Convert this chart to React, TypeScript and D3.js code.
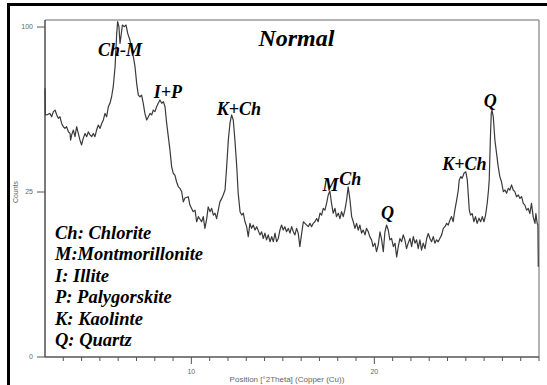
import React from 'react';
import * as d3 from 'd3';

// 2θ positions (degrees) and intensity (counts)
const twoTheta = [
  2.00, 2.02, 2.09, 2.27, 2.36, 2.46, 2.55, 2.64, 2.73, 2.82, 2.91, 3.00, 3.09, 3.18, 3.28, 3.37, 3.40, 3.46, 3.55, 3.64,
  3.73, 3.82, 3.91, 4.00, 4.09, 4.19, 4.28, 4.37, 4.46, 4.55, 4.64, 4.73, 4.82, 4.91, 5.01, 5.10, 5.19, 5.28, 5.37, 5.46,
  5.55, 5.64, 5.73, 5.83, 5.92, 5.97, 6.04, 6.10, 6.15, 6.23, 6.34, 6.43, 6.52, 6.64, 6.74, 6.83, 6.92, 7.01, 7.10, 7.19,
  7.28, 7.37, 7.46, 7.56, 7.65, 7.74, 7.83, 7.92, 8.01, 8.10, 8.19, 8.28, 8.38, 8.47, 8.56, 8.65, 8.74, 8.83, 8.92, 9.01,
  9.10, 9.19, 9.29, 9.38, 9.47, 9.56, 9.65, 9.83, 9.92, 10.10, 10.20, 10.29, 10.38, 10.56, 10.65, 10.74, 10.84, 10.92, 11.02, 11.11,
  11.20, 11.29, 11.38, 11.47, 11.56, 11.66, 11.74, 11.84, 11.93, 12.02, 12.11, 12.20, 12.29, 12.38, 12.48, 12.56, 12.66, 12.75, 12.84, 12.93,
  13.02, 13.11, 13.20, 13.29, 13.38, 13.48, 13.57, 13.75, 13.84, 13.93, 14.02, 14.11, 14.20, 14.30, 14.39, 14.48, 14.57, 14.66, 14.75, 14.84,
  14.93, 15.02, 15.11, 15.20, 15.30, 15.39, 15.48, 15.57, 15.66, 15.75, 15.84, 15.93, 16.03, 16.12, 16.21, 16.39, 16.48, 16.57, 16.66, 16.75,
  16.85, 16.93, 17.03, 17.12, 17.21, 17.30, 17.39, 17.48, 17.57, 17.66, 17.75, 17.85, 17.93, 18.03, 18.12, 18.21, 18.30, 18.39, 18.48, 18.57,
  18.67, 18.76, 18.85, 18.94, 19.03, 19.12, 19.21, 19.30, 19.39, 19.49, 19.57, 19.67, 19.75, 19.85, 19.93, 20.03, 20.12, 20.21, 20.31, 20.40,
  20.49, 20.58, 20.67, 20.76, 20.85, 20.94, 21.04, 21.13, 21.22, 21.31, 21.40, 21.49, 21.58, 21.67, 21.76, 21.85, 21.95, 22.04, 22.13, 22.22,
  22.31, 22.40, 22.49, 22.58, 22.67, 22.77, 22.86, 22.95, 23.04, 23.13, 23.22, 23.31, 23.40, 23.49, 23.58, 23.68, 23.77, 23.86, 23.95, 24.04,
  24.13, 24.22, 24.31, 24.40, 24.50, 24.59, 24.64, 24.73, 24.80, 24.90, 25.00, 25.08, 25.13, 25.19, 25.26, 25.35, 25.44, 25.53, 25.62, 25.72,
  25.81, 25.90, 25.99, 26.08, 26.17, 26.24, 26.28, 26.34, 26.39, 26.43, 26.50, 26.59, 26.68, 26.77, 26.86, 26.95, 27.05, 27.14, 27.23, 27.32,
  27.41, 27.50, 27.59, 27.68, 27.77, 27.87, 27.96, 28.05, 28.14, 28.23, 28.32, 28.41, 28.50, 28.59, 28.68, 28.78, 28.83, 28.90, 28.94, 28.96,
];
const counts = [
  66.3, 54.0, 53.8, 54.5, 53.0, 55.3, 56.0, 53.8, 52.3, 53.0, 50.1, 48.7, 48.0, 48.7, 46.6, 45.9, 43.2, 45.3, 47.3, 44.6,
  48.7, 45.9, 43.2, 41.3, 43.9, 45.9, 44.6, 46.6, 45.3, 44.6, 45.9, 44.6, 47.3, 49.4, 48.0, 50.1, 51.6, 54.5, 53.0, 57.5,
  59.1, 62.2, 67.1, 77.4, 96.2, 103.3, 100.2, 90.3, 94.2, 101.2, 100.2, 101.2, 96.2, 92.3, 86.5, 82.8, 77.4, 68.8, 63.0, 62.2,
  63.0, 59.1, 54.5, 51.6, 53.0, 54.5, 53.8, 56.0, 55.3, 57.5, 59.1, 60.7, 59.1, 59.9, 57.5, 50.1, 44.6, 39.3, 33.3, 31.0,
  30.4, 28.2, 26.6, 26.1, 25.1, 22.1, 23.2, 23.6, 21.2, 19.4, 19.8, 16.8, 18.1, 16.8, 18.1, 15.2, 17.6, 20.7, 19.4, 20.3,
  18.5, 19.0, 17.6, 19.8, 22.1, 23.1, 24.1, 25.6, 33.3, 43.2, 50.2, 53.8, 51.6, 43.2, 33.3, 24.6, 19.4, 18.5, 19.0, 16.8,
  15.6, 13.3, 16.4, 15.2, 16.0, 14.8, 15.6, 13.7, 14.4, 12.9, 14.1, 12.6, 13.7, 12.2, 13.3, 12.2, 14.1, 12.2, 12.9, 14.8,
  16.0, 14.8, 15.6, 14.4, 15.2, 14.1, 15.6, 14.4, 13.7, 15.2, 14.1, 11.2, 14.1, 16.8, 16.4, 15.6, 16.4, 15.6, 16.4, 16.8,
  17.6, 16.8, 19.0, 18.5, 20.3, 19.8, 21.7, 24.1, 25.3, 21.7, 19.0, 20.3, 18.1, 19.0, 17.6, 19.4, 18.1, 19.8, 22.5, 26.6,
  22.6, 18.1, 16.8, 15.2, 16.4, 14.8, 16.0, 14.1, 14.8, 13.7, 15.2, 14.4, 13.3, 12.6, 11.2, 11.9, 10.2, 11.5, 14.4, 12.6,
  10.2, 14.4, 16.0, 14.8, 12.6, 12.9, 11.2, 11.9, 9.2, 11.2, 12.9, 12.2, 13.7, 12.6, 10.8, 11.9, 12.9, 11.2, 13.3, 11.9,
  12.6, 10.8, 12.6, 10.5, 11.9, 10.8, 12.9, 14.0, 12.9, 12.2, 13.3, 11.9, 12.6, 12.2, 12.9, 13.7, 15.2, 15.6, 16.4, 16.0,
  17.2, 18.1, 16.8, 19.8, 22.6, 25.6, 28.8, 29.9, 29.3, 31.0, 31.5, 28.8, 24.6, 19.8, 18.5, 18.9, 16.8, 18.1, 16.4, 17.7,
  16.8, 18.1, 16.8, 18.5, 21.7, 25.6, 28.8, 43.2, 54.5, 56.0, 53.0, 43.2, 38.1, 33.3, 29.9, 28.2, 25.1, 25.6, 24.6, 26.1,
  25.6, 27.2, 25.6, 25.1, 23.6, 24.1, 23.1, 23.6, 21.7, 21.2, 19.8, 20.3, 18.9, 21.7, 18.1, 16.4, 18.9, 16.4, 16.0, 7.5,
];

const yTicks = [0, 25, 100];
const xMajorTicks = [10, 20];
const xMinorTicks = d3.range(3, 30);

const peakLabels = ['Ch-M', 'I+P', 'K+Ch', 'M', 'Ch', 'Q', 'K+Ch', 'Q'];
const peakTheta = [6.10, 8.72, 12.60, 17.60, 18.69, 20.72, 24.92, 26.34];
const peakCounts = [83.2, 61.6, 53.8, 25.3, 27.2, 17.5, 32.1, 57.4];

const legendLines = [
  'Ch: Chlorite',
  'M:Montmorillonite',
  'I: Illite',
  'P: Palygorskite',
  'K: Kaolinte',
  'Q: Quartz',
];

const title = 'Normal';
const titleTheta = 15.74;
const titleCounts = 88.8;

export default function App() {
  const W = 547, H = 385;
  const left = 45, right = 539, top = 20, bottom = 357;
  const x = d3.scaleLinear().domain([2, 29]).range([left, right]);
  const y = d3.scaleSqrt().domain([0, 104.3]).range([bottom, top]);

  const pts: [number, number][] = twoTheta.map((t, i) => [t, counts[i]]);
  const line = d3.line<[number, number]>().x(d => x(d[0])).y(d => y(d[1]))(pts) || '';

  const serif = '"Liberation Serif", "Times New Roman", serif';
  const sans = '"Liberation Sans", Arial, sans-serif';

  return (
    <svg width={W} height={H} style={{ position: 'absolute', left: 0, top: 0, background: '#fff' }}>
      <rect x={0} y={0} width={W} height={H} fill="#fff" />
      {/* outer frame */}
      <rect x={8.5} y={4.5} width={700} height={600} fill="none" stroke="#000" strokeWidth={3} />

      {/* plot frame: top and right light grey */}
      <line x1={left} y1={top} x2={right} y2={top} stroke="#9a9a9a" strokeWidth={1.5} />
      <line x1={right} y1={top} x2={right} y2={bottom} stroke="#9a9a9a" strokeWidth={1.5} />
      {/* axes */}
      <line x1={left} y1={top} x2={left} y2={bottom} stroke="#333" strokeWidth={1.3} />
      <line x1={left} y1={bottom} x2={right} y2={bottom} stroke="#555" strokeWidth={1.3} />

      {/* y ticks */}
      {yTicks.map(v => (
        <g key={'y' + v}>
          <line x1={37} x2={left} y1={y(v)} y2={y(v)} stroke="#555" strokeWidth={1} />
          <text x={33} y={y(v)} dy="0.35em" textAnchor="end" fontFamily={sans} fontSize={7} fill="#666">{v}</text>
        </g>
      ))}
      <text transform={`translate(17.5,192) rotate(-90)`} textAnchor="middle" fontFamily={sans} fontSize={7} fill="#666">Counts</text>

      {/* x ticks */}
      {xMinorTicks.map(v => (
        <line key={'xm' + v} x1={x(v)} x2={x(v)} y1={bottom} y2={xMajorTicks.includes(v) ? bottom + 7 : bottom + 4} stroke="#555" strokeWidth={1} />
      ))}
      {xMajorTicks.map(v => (
        <text key={'xl' + v} x={x(v)} y={374} textAnchor="middle" fontFamily={sans} fontSize={7} fill="#666">{v}</text>
      ))}
      <text x={287} y={382} textAnchor="middle" fontFamily={sans} fontSize={8} fill="#666">Position [°2Theta] (Copper (Cu))</text>

      {/* pattern */}
      <path d={line} fill="none" stroke="#3a3a3a" strokeWidth={1.2} strokeLinejoin="round" />

      {/* title */}
      <text x={x(titleTheta)} y={y(titleCounts)} textAnchor="middle" fontFamily={serif} fontWeight="bold" fontStyle="italic" fontSize={24} fill="#000">{title}</text>

      {/* peak labels */}
      {peakLabels.map((lab, i) => (
        <text key={'p' + i} x={x(peakTheta[i])} y={y(peakCounts[i])} textAnchor="middle" fontFamily={serif} fontWeight="bold" fontStyle="italic" fontSize={18} fill="#000">{lab}</text>
      ))}

      {/* legend */}
      {legendLines.map((l, i) => (
        <text key={'l' + i} x={55} y={239 + i * 21.4} fontFamily={serif} fontWeight="bold" fontStyle="italic" fontSize={18.5} fill="#000">{l}</text>
      ))}
    </svg>
  );
}
